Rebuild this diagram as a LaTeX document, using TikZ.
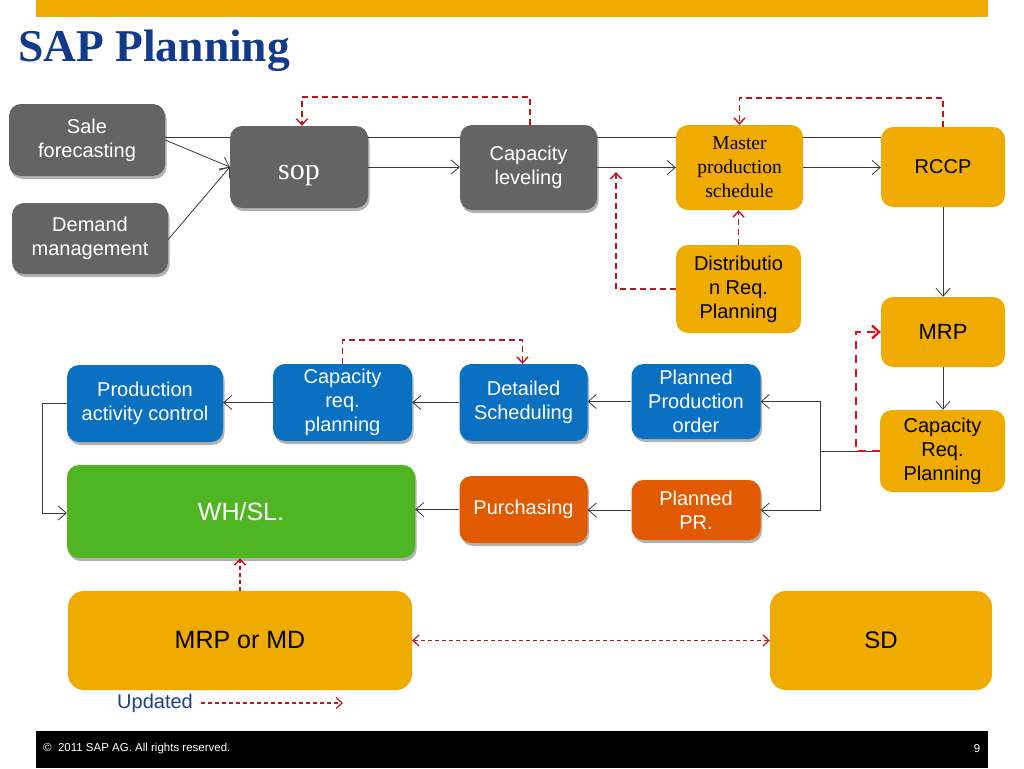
\documentclass[tikz,border=0pt]{standalone}
\usepackage{fontspec}
\setmainfont{Liberation Sans}
\newfontfamily\tmsfont{Liberation Serif}
\usetikzlibrary{arrows.meta,shadows,backgrounds}
\definecolor{sapgrey}{HTML}{646464}
\definecolor{sapgold}{HTML}{F0AB00}
\definecolor{sapblue}{HTML}{0A70C2}
\definecolor{saporange}{HTML}{E25A00}
\definecolor{sapgreen}{HTML}{50B522}
\definecolor{titleblue}{HTML}{12398A}
\definecolor{updblue}{HTML}{1F3F80}
\definecolor{linec}{HTML}{3A3A3A}
\definecolor{dred}{HTML}{C0141C}
\definecolor{bred}{HTML}{E01018}
\begin{document}
\begin{tikzpicture}[x=1pt,y=-1pt,
  box/.style={rounded corners=12pt, inner sep=0pt, align=center, font=\fontsize{20}{24}\selectfont},
  shad/.style={drop shadow={shadow xshift=1.5pt,shadow yshift=-3pt,opacity=0.3,fill=black}},
  gbox/.style={box, shad, fill=sapgrey, text=white},
  ybox/.style={box, fill=sapgold, text=black},
  bbox/.style={box, shad, fill=sapblue, text=white},
  obox/.style={box, shad, fill=saporange, text=white},
  wbox/.style={box, shad, fill=sapgreen, text=white},
  conn/.style={draw=linec, line width=0.8pt, -{Straight Barb[length=8pt,width=14pt]}},
  plain/.style={draw=linec, line width=0.8pt},
  rdash/.style={draw=dred, line width=1.4pt, dash pattern=on 6pt off 4pt, -{Straight Barb[length=6pt,width=11pt]}},
  rdashs/.style={draw=dred, line width=1.2pt, dash pattern=on 4pt off 3pt},
  bdash/.style={draw=bred, line width=2.4pt, dash pattern=on 8pt off 6pt, -{Straight Barb[length=7pt,width=13pt]}}
]
\useasboundingbox (0,0) rectangle (1024,768);
% bars
\fill[sapgold] (36,0) rectangle (988,17);
\fill[black] (36,731) rectangle (988,768);
\node[anchor=base west, text=titleblue, font=\tmsfont\bfseries\fontsize{45.5}{50}\selectfont, inner sep=0pt] (title) at (18,61) {SAP Planning};
\node[anchor=west, text=white, font=\fontsize{11.5}{13}\selectfont, inner sep=0pt] (copy) at (43,749) {\textcopyright\ \ 2011 SAP AG. All rights reserved.};
\node[anchor=center, text=white, font=\fontsize{11.5}{13}\selectfont, inner sep=0pt] (pg) at (977,749) {9};

% top row
\node[gbox, minimum width=156pt, minimum height=72pt] (sf) at (87,140) {Sale\\forecasting};
\node[gbox, minimum width=156pt, minimum height=71pt] (dm) at (90,238.5) {Demand\\management};
\node[gbox, minimum width=138pt, minimum height=82pt, font=\tmsfont\fontsize{30}{34}\selectfont] (sop) at (299,167) {\raisebox{-12pt}[0pt][0pt]{sop}};
\node[gbox, minimum width=137pt, minimum height=85pt] (cl) at (528.5,167.5) {Capacity\\leveling};
\node[ybox, minimum width=127pt, minimum height=85pt, font=\tmsfont\fontsize{19.5}{24}\selectfont] (mps) at (739.5,167.5) {Master\\production\\schedule};
\node[ybox, minimum width=124pt, minimum height=80pt] (rccp) at (943,167) {RCCP};
\node[ybox, minimum width=125pt, minimum height=88pt] (drp) at (738.5,289) {Distributio\\n Req.\\Planning};
\node[ybox, minimum width=124pt, minimum height=70pt, font=\fontsize{22}{26}\selectfont] (mrp) at (943,332) {MRP};
\node[ybox, minimum width=125pt, minimum height=82pt] (crpy) at (942.5,451) {Capacity\\Req.\\Planning};

% middle rows
\node[bbox, minimum width=156pt, minimum height=77pt] (pac) at (145,403.5) {Production\\activity control};
\node[bbox, minimum width=139pt, minimum height=77pt] (crp) at (342.5,402.5) {Capacity\\req.\\planning};
\node[bbox, minimum width=128pt, minimum height=77pt] (ds) at (523.5,402.5) {Detailed\\Scheduling};
\node[bbox, minimum width=129pt, minimum height=75pt] (ppo) at (696,401.5) {Planned\\Production\\order};
\node[obox, minimum width=128pt, minimum height=67pt] (pur) at (523.5,509.5) {Purchasing};
\node[obox, minimum width=129pt, minimum height=60pt] (ppr) at (696,510) {Planned\\PR.};
\node[wbox, minimum width=348pt, minimum height=93pt, font=\fontsize{25}{28}\selectfont] (wh) at (241,511.5) {WH/SL.};

% bottom
\node[ybox, rounded corners=16pt, minimum width=344pt, minimum height=99pt, font=\fontsize{25}{28}\selectfont] (mrpmd) at (240,640.5) {MRP or MD};
\node[ybox, rounded corners=16pt, minimum width=222pt, minimum height=99pt, font=\fontsize{24}{28}\selectfont] (sd) at (881,640.5) {SD};
\node[text=updblue, font=\fontsize{20}{24}\selectfont, inner sep=0pt, anchor=west] (upd) at (117,703) {Updated};
\coordinate (updend) at (343,703);

% background long line
\begin{pgfonlayer}{background}
\draw[plain] ([yshift=3pt]sf.east) -- ([yshift=3pt]sf.east -| rccp.west);
\end{pgfonlayer}

% top connectors
\draw[conn] (sf.east) -- (sop.west);
\draw[conn] ([yshift=-1pt]dm.east) -- (sop.west);
\draw[conn] (sop.east) -- (sop.east -| cl.west);
\draw[conn] (cl.east) -- (cl.east -| mps.west);
\draw[conn] (mps.east) -- (mps.east -| rccp.west);
\draw[conn] (rccp.south) -- (mrp.north);
\draw[conn] (mrp.south) -- (mrp.south |- crpy.north);

\draw[rdash] ([xshift=1.5pt]cl.north) -- ++(0,-28) -| ([xshift=3pt]sop.north);
\draw[rdash] (rccp.north) -- ++(0,-29) -| (mps.north);
\coordinate (j1) at (616,172);
\draw[rdash] (drp.west) -| (j1);
\draw[rdash] (drp.north) -- (drp.north |- mps.south);

% right side split
\coordinate (split) at (820,451);
\draw[plain] (crpy.west) -- (split);
\draw[conn] (split) |- (ppo.east);
\draw[conn] (split) |- (ppr.east);
\draw[bdash] (crpy.west) -- ++(-24,0) |- (mrp.west);

% middle connectors
\draw[conn] (ppo.west) -- (ppo.west -| ds.east);
\draw[conn] (ds.west) -- (ds.west -| crp.east);
\draw[conn] (crp.west) -- (crp.west -| pac.east);
\draw[conn] (pac.west) -- ++(-24,0) |- ([yshift=-1.5pt]wh.west);
\draw[conn] (ppr.west) -- (ppr.west -| pur.east);
\draw[conn] (pur.west) -- (pur.west -| wh.east);
\draw[rdash] (crp.north) -- ++(0,-24) -| ([xshift=-1pt]ds.north);

% bottom connectors
\draw[rdash, dash pattern=on 4pt off 3pt, line width=1.3pt] (mrpmd.north) -- (mrpmd.north |- wh.south);
\draw[rdashs, {Straight Barb[length=6pt,width=11pt]}-{Straight Barb[length=6pt,width=11pt]}] (mrpmd.east) -- (sd.west);
\draw[rdashs, -{Straight Barb[length=6pt,width=11pt]}] ([xshift=8pt]upd.east) -- (updend);
\end{tikzpicture}
\end{document}
